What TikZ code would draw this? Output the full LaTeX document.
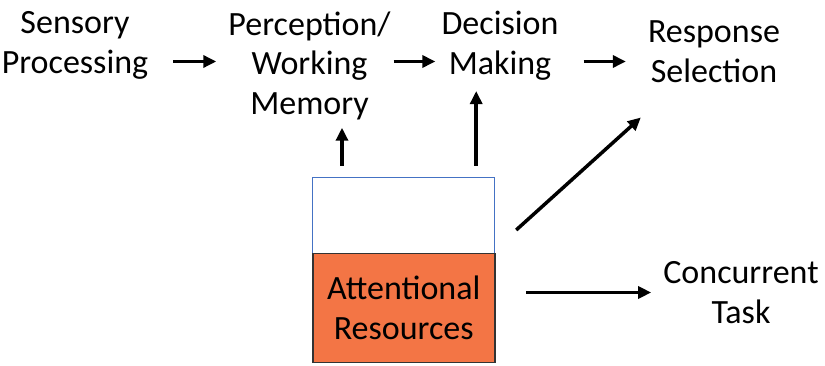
\documentclass[tikz,border=0pt]{standalone}
\usepackage{fontspec}
\setmainfont{Carlito}
\usetikzlibrary{arrows.meta}
\definecolor{poolblue}{RGB}{68,114,196}
\definecolor{poolorange}{RGB}{243,117,69}
\tikzstyle{stage} = [align=center, inner sep=0pt,
    font=\fontsize{34}{39.5}\selectfont]
\tikzstyle{flow} = [draw, line width=3.5pt,
    -{Triangle[length=13pt,width=12pt]}]

\begin{document}
\begin{tikzpicture}[x=1pt, y=-1pt]
    \useasboundingbox (0,0) rectangle (825,366);
    \node [stage] (sensory) at (75,45.5) {Sensory\\Processing};
    \node [stage] (perception) at (309.5,65.5) {Perception/\\Working\\Memory};
    \node [stage] (decision) at (500,45.5) {Decision\\Making};
    \node [stage] (response) at (714,51.5) {Response\\Selection};
    \node [stage] (concurrent) at (741,292.5) {Concurrent\\Task};
    % resource pool and its filled level
    \node [draw=poolblue, line width=1.2pt, minimum width=182pt,
        minimum height=185pt, anchor=north west] (pool) at (312,177) {};
    \node [stage, draw=black!80, fill=poolorange, line width=1.5pt,
        minimum width=182pt, minimum height=109pt,
        anchor=south west] (level) at (pool.south west) {Attentional\\Resources};
    \draw [flow, shorten <=25pt, shorten >=12pt] ([yshift=4pt]perception.west -| sensory.east) -- ([yshift=4pt]perception.west);
    \draw [flow, shorten <=3pt, shorten >=6pt] ([yshift=4pt]perception.east) -- ([yshift=4pt]perception.east -| decision.west);
    \draw [flow, shorten <=25pt, shorten >=22pt] ([yshift=4pt]perception.east -| decision.east) -- ([yshift=4pt]perception.east -| response.west);
    \draw [flow, shorten <=11pt, shorten >=8pt] ([xshift=30pt]pool.north west) -- ([xshift=30pt]pool.north west |- perception.south);
    \draw [flow, shorten <=11pt, shorten >=11pt] ([xshift=-19pt]pool.north east) -- ([xshift=-19pt]pool.north east |- decision.south);
    \draw [flow] ([xshift=21pt, yshift=-53pt]pool.north east) -- ([xshift=-7pt, yshift=-35pt]response.south west);
    \draw [flow, shorten <=31pt, shorten >=12pt] (pool.east |- concurrent) -- (concurrent.west);
\end{tikzpicture}
\end{document}
